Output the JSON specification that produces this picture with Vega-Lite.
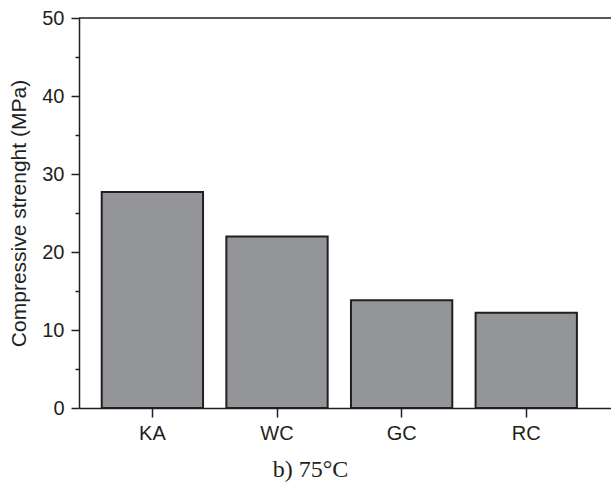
{
  "$schema": "https://vega.github.io/schema/vega-lite/v6.json",
  "width": 532,
  "height": 390,
  "autosize": "none",
  "padding": {"left": 79, "top": 18, "right": 0, "bottom": 75},
  "background": "white",
  "config": {
    "view": {"stroke": null},
    "axis": {"labelFont": "Liberation Sans", "titleFont": "Liberation Sans", "labelColor": "#231f20", "titleColor": "#231f20", "domainColor": "#231f20", "tickColor": "#231f20", "grid": false}
  },
  "data": {"values": [
    {"sample": "KA", "strength": 27.7},
    {"sample": "WC", "strength": 22.0},
    {"sample": "GC", "strength": 13.8},
    {"sample": "RC", "strength": 12.2}
  ]},
  "layer": [
    {
      "mark": {"type": "bar", "fill": "#939598", "stroke": "#231f20", "strokeWidth": 2},
      "encoding": {
        "x": {"field": "sample", "type": "nominal", "sort": null,
          "scale": {"paddingInner": 0.187, "paddingOuter": 0.228, "align": 0.4},
          "axis": {"title": "b) 75°C", "titleFont": "Liberation Serif", "titleFontWeight": "normal", "titleFontSize": 24, "titleX": 231, "titlePadding": 14, "labelAngle": 0, "labelFontSize": 20, "labelPadding": 6, "tickSize": 9, "tickWidth": 1.5, "domainWidth": 1.5}},
        "y": {"field": "strength", "type": "quantitative",
          "scale": {"domain": [0, 50], "nice": false},
          "axis": {"title": "Compressive strenght (MPa)", "titleFontWeight": "normal", "titleFontSize": 21, "titlePadding": 12, "values": [0, 10, 20, 30, 40, 50], "labelFontSize": 20, "labelPadding": 7, "tickSize": 8, "tickWidth": 1.5, "domainWidth": 1.5}}
      }
    },
    {
      "data": {"values": [{"top": 50}]},
      "mark": {"type": "rule", "stroke": "#231f20", "strokeWidth": 1.5},
      "encoding": {
        "y": {"field": "top", "type": "quantitative",
          "axis": {"orient": "left", "values": [5, 15, 25, 35, 45], "labels": false, "title": null, "domain": false, "tickSize": 4, "tickWidth": 1.5}}
      }
    }
  ],
  "resolve": {"axis": {"y": "independent"}}
}
